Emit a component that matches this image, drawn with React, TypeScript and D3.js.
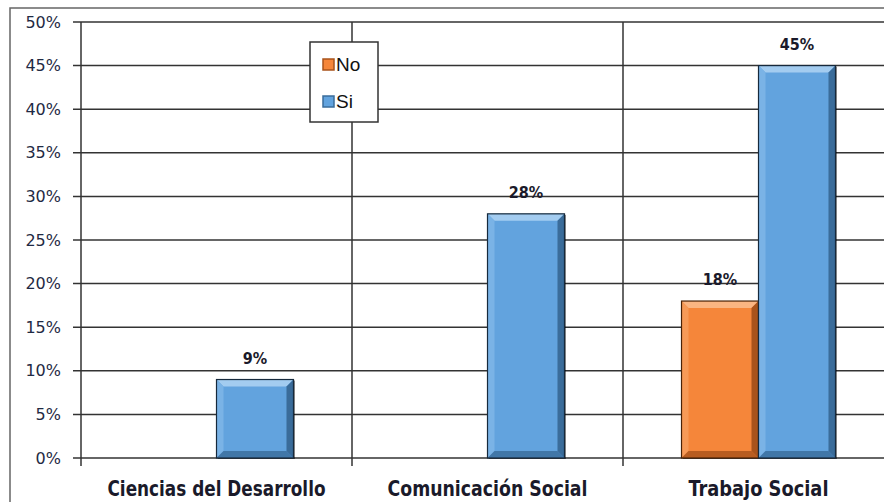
import React from "react";
import * as d3 from "d3";

const categories = ["Ciencias del Desarrollo", "Comunicación Social", "Trabajo Social"];
const categoryWidths = [218, 200, 140];
const seriesNames = ["No", "Si"];
const noValues = [0, 0, 18];
const siValues = [9, 28, 45];
const yTicks = [0, 5, 10, 15, 20, 25, 30, 35, 40, 45, 50];

const W = 884;
const H = 502;
const left = 81;
const right = 894;
const top = 22;
const bottom = 458;

const colors: Record<string, { fill: string; light: string; side: string; dark: string; edge: string }> = {
  No: { fill: "#F5863A", light: "#FAB582", side: "#F79A57", dark: "#A9531B", edge: "#4a2206" },
  Si: { fill: "#62A3DE", light: "#A3CCF0", side: "#7AB3E6", dark: "#3A6C9A", edge: "#16293c" },
};

function Bar({ x, y, w, h, name }: { x: number; y: number; w: number; h: number; name: string }) {
  if (h <= 0) return null;
  const c = colors[name];
  const b = Math.min(7, h / 2, w / 2);
  const x1 = x + w, y1 = y + h;
  return (
    <g>
      <rect x={x + 1.5} y={y + 1} width={w} height={h} fill="#000" opacity={0.45} />
      <rect x={x} y={y} width={w} height={h} fill={c.fill} />
      <polygon points={`${x},${y} ${x1},${y} ${x1 - b},${y + b} ${x + b},${y + b}`} fill={c.light} />
      <polygon points={`${x},${y} ${x + b},${y + b} ${x + b},${y1 - b} ${x},${y1}`} fill={c.side} />
      <polygon points={`${x1},${y} ${x1},${y1} ${x1 - b},${y1 - b} ${x1 - b},${y + b}`} fill={c.dark} />
      <polygon points={`${x},${y1} ${x1},${y1} ${x1 - b},${y1 - b} ${x + b},${y1 - b}`} fill={c.dark} opacity={0.8} />
      <rect x={x} y={y} width={w} height={h} fill="none" stroke={c.edge} strokeWidth={1.2} />
    </g>
  );
}

export default function App() {
  const y = d3.scaleLinear().domain([0, 50]).range([bottom, top]);
  const x0 = d3.scaleBand().domain(categories).range([left, right]).paddingInner(0).paddingOuter(0);
  const bw = x0.bandwidth();
  const x1 = d3.scaleBand().domain(seriesNames).range([0, bw]).paddingInner(0).paddingOuter(0.76);
  const values: Record<string, number[]> = { No: noValues, Si: siValues };
  const gridColor = "#333";

  return (
    <svg width={W} height={H} style={{ position: "absolute", left: 0, top: 0, background: "#fff" }}>
      <rect x={10} y={8} width={W + 20} height={H + 20} fill="#fff" stroke="#666" strokeWidth={1.5} />
      {yTicks.map((t) => (
        <g key={t}>
          <line x1={73} x2={W + 10} y1={y(t)} y2={y(t)} stroke={gridColor} strokeWidth={1.5} />
          <text
            x={61}
            y={y(t) + 5.5}
            textAnchor="end"
            fontFamily="DejaVu Sans, Verdana, sans-serif"
            fontSize={16}
            fill="#1f2a44"
          >
            {t}%
          </text>
        </g>
      ))}
      {[0, 1, 2, 3].map((i) => {
        const xv = i < 3 ? x0(categories[i])! : right;
        return <line key={i} x1={xv} x2={xv} y1={top} y2={466} stroke={gridColor} strokeWidth={1.5} />;
      })}
      {categories.map((cat, ci) =>
        seriesNames.map((s) => {
          const v = values[s][ci];
          if (v <= 0) return null;
          const bx = x0(cat)! + x1(s)!;
          return (
            <g key={cat + s}>
              <Bar x={bx} y={y(v)} w={x1.bandwidth()} h={bottom - y(v)} name={s} />
              <text
                x={bx + x1.bandwidth() / 2}
                y={y(v) - 16}
                textAnchor="middle"
                fontFamily="DejaVu Sans Condensed, DejaVu Sans, sans-serif"
                fontWeight="bold"
                fontSize={16}
                fill="#1a1a2a"
              >
                {v}%
              </text>
            </g>
          );
        })
      )}
      {categories.map((cat, ci) => (
        <text
          key={cat}
          x={x0(cat)! + bw / 2}
          y={496}
          textAnchor="middle"
          textLength={categoryWidths[ci]}
          lengthAdjust="spacingAndGlyphs"
          fontFamily="DejaVu Sans Condensed, DejaVu Sans, sans-serif"
          fontWeight="bold"
          fontSize={21}
          fill="#1a1a2a"
        >
          {cat}
        </text>
      ))}
      <g>
        <rect x={310} y={42} width={68} height={80} fill="#fff" stroke="#333" strokeWidth={1.5} />
        {seriesNames.map((s, i) => {
          const cy = 64 + i * 37;
          const c = colors[s];
          return (
            <g key={s}>
              <rect x={323} y={cy - 5} width={11} height={11} fill={c.fill} stroke={c.dark} strokeWidth={1.5} />
              <text x={336} y={cy + 7} fontFamily="Liberation Sans, Arial, sans-serif" fontSize={19} fill="#111">
                {s}
              </text>
            </g>
          );
        })}
      </g>
    </svg>
  );
}
